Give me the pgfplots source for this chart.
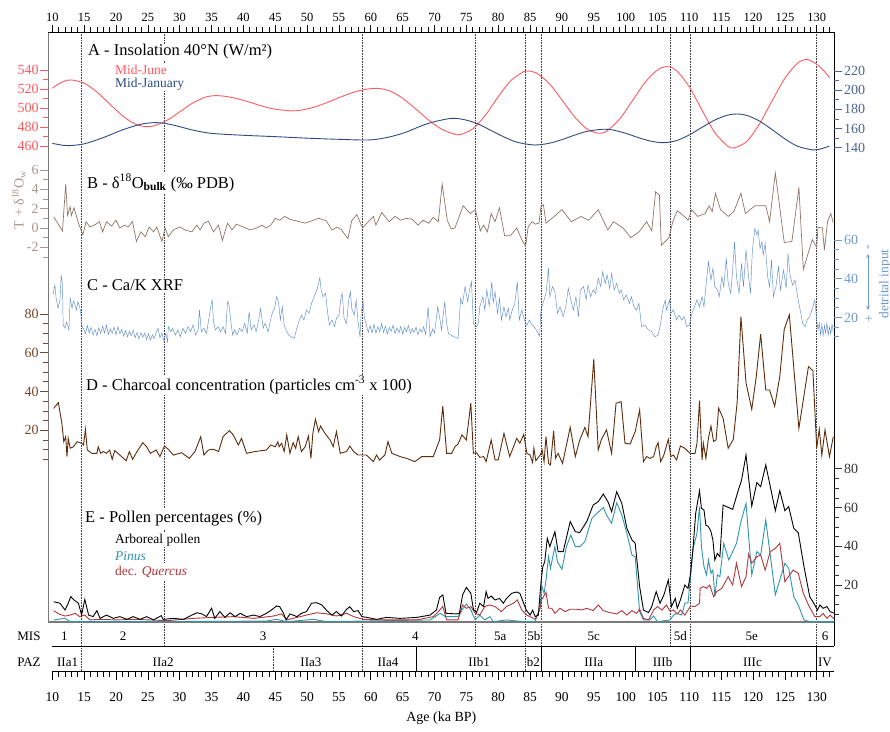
\documentclass[border=0pt]{standalone}
\usepackage{pgfplots}
\pgfplotsset{compat=1.18}
\usepackage{fontspec}
\setmainfont{Liberation Serif}
\usetikzlibrary{arrows.meta}

\newcommand\fs[1]{\fontsize{#1}{#1}\selectfont}

\definecolor{june}{HTML}{FF5A5F}
\definecolor{jan}{HTML}{2E4C82}
\definecolor{janlab}{HTML}{4A6496}
\definecolor{dO}{HTML}{8E7466}
\definecolor{dOlab}{HTML}{A8968A}
\definecolor{cak}{HTML}{5C8CCC}
\definecolor{caklab}{HTML}{6E9ACF}
\definecolor{char}{HTML}{5E2C0C}
\definecolor{charlab}{HTML}{7A4528}
\definecolor{pinus}{HTML}{2F95AB}
\definecolor{querc}{HTML}{B3363B}
\definecolor{framegray}{HTML}{7A7A7A}

\tikzset{
  dotline/.style={densely dotted, black!75, line width=0.6pt},
  lbl/.style={fill=white, inner sep=1pt, anchor=west},
}
\pgfplotsset{
  panel/.style={
    at={(48.3pt,109pt)}, anchor=south west,
    scale only axis, width=786pt, height=590pt,
    xmin=9.37, xmax=132.76,
    axis x line=none, xtick=\empty,
    tick align=outside,
    major tick length=8pt, minor tick length=5pt,
    /pgf/number format/assume math mode=true,
    yticklabel style={font=\fs{14}, inner sep=1.5pt},
  },
  leftpanel/.style={panel, axis y line*=left, y axis line style={draw=none}},
  rightpanel/.style={panel, axis y line*=right, y axis line style={draw=none}},
}

\begin{document}
\begin{tikzpicture}
\path[use as bounding box] (0pt,0pt) rectangle (890pt,731pt);

% frame, top scale, zone boundaries, MIS and PAZ rows
\begin{axis}[
  at={(48.3pt,109pt)}, anchor=south west,
  scale only axis, width=786pt, height=590pt,
  xmin=9.37, xmax=132.76, ymin=0, ymax=590,
  axis x line*=top, axis y line=none, x axis line style={draw=none},
  xtick={10,15,...,130}, minor xtick={11,12,...,133},
  tick align=outside, major tick length=7pt, minor tick length=4.5pt,
  tick style={black, line width=0.7pt},
  xticklabel style={font=\fs{12.5}, inner sep=1pt, yshift=2pt},
  /pgf/number format/assume math mode=true,
  clip=false,
]
\draw[dotline] (axis cs:14.5,590) -- (axis cs:14.5,-49);
\draw[dotline] (axis cs:27.6,590) -- (axis cs:27.6,-24);
\draw[dotline] (axis cs:58.6,590) -- (axis cs:58.6,-49);
\draw[dotline] (axis cs:76.4,590) -- (axis cs:76.4,-24);
\draw[dotline] (axis cs:84.3,590) -- (axis cs:84.3,-49);
\draw[dotline] (axis cs:86.7,590) -- (axis cs:86.7,-24);
\draw[dotline] (axis cs:107.0,590) -- (axis cs:107.0,-24);
\draw[dotline] (axis cs:110.1,590) -- (axis cs:110.1,-24);
\draw[dotline] (axis cs:129.9,590) -- (axis cs:129.9,-24);
\draw[dotline] (axis cs:44.75,-24) -- (axis cs:44.75,-49);
\draw[black, line width=0.8pt] (axis cs:67.1,-24) -- (axis cs:67.1,-49);
\draw[black, line width=0.8pt] (axis cs:86.7,-24) -- (axis cs:86.7,-49);
\draw[black, line width=0.8pt] (axis cs:101.5,-24) -- (axis cs:101.5,-49);
\draw[black, line width=0.8pt] (axis cs:110.1,-24) -- (axis cs:110.1,-49);
\draw[black, line width=0.8pt] (axis cs:129.9,-24) -- (axis cs:129.9,-49);
\draw[black, line width=0.8pt] (axis cs:10,-24) -- (axis cs:132.76,-24);
\draw[black, line width=0.8pt] (axis cs:10,-49) -- (axis cs:132.76,-49);
\draw[framegray, line width=1.6pt] (axis cs:9.37,590) -- (axis cs:9.37,0) -- (axis cs:132.76,0);
\draw[black, line width=0.8pt] (axis cs:9.37,590) -- (axis cs:132.76,590) -- (axis cs:132.76,-24);
\begin{scope}[font=\fs{13}]
\node at (axis cs:6.34,-14) {MIS};
\node at (axis cs:6.34,-40) {PAZ};
\node at (axis cs:11.9,-14) {1};
\node at (axis cs:21.1,-14) {2};
\node at (axis cs:43.1,-14) {3};
\node at (axis cs:67.0,-14) {4};
\node at (axis cs:80.3,-14) {5a};
\node at (axis cs:85.6,-14) {5b};
\node at (axis cs:95.0,-14) {5c};
\node at (axis cs:108.6,-14) {5d};
\node at (axis cs:119.8,-14) {5e};
\node at (axis cs:131.3,-14) {6};
\node at (axis cs:12.4,-40) {IIa1};
\node at (axis cs:27.4,-40) {IIa2};
\node at (axis cs:50.6,-40) {IIa3};
\node at (axis cs:62.7,-40) {IIa4};
\node at (axis cs:77.0,-40) {IIb1};
\node at (axis cs:85.5,-40) {b2};
\node at (axis cs:95.0,-40) {IIIa};
\node at (axis cs:105.8,-40) {IIIb};
\node at (axis cs:119.9,-40) {IIIc};
\node at (axis cs:131.3,-40) {IV};
\end{scope}
\end{axis}

% bottom age scale
\begin{axis}[
  at={(48.3pt,60pt)}, anchor=south west,
  scale only axis, width=786pt, height=49pt,
  xmin=9.37, xmax=132.76, ymin=0, ymax=1,
  axis x line*=bottom, axis y line=none, x axis line style={draw=none},
  xtick={10,15,...,130}, minor xtick={11,12,...,133},
  tick align=outside, major tick length=9pt, minor tick length=6pt,
  tick style={black, line width=0.7pt},
  xticklabel style={font=\fs{13.5}, inner sep=1pt, yshift=-11pt},
  xlabel={Age (ka BP)},
  xlabel style={font=\fs{14}, at={(axis description cs:0.5,0)}, anchor=center, yshift=-47pt},
  /pgf/number format/assume math mode=true,
]
\end{axis}

% A - insolation, mid-June (left scale)
\begin{axis}[leftpanel, ymin=-41.05, ymax=580,
  ytick={460,480,...,540}, minor ytick={470,490,510,530},
  y tick style={june, line width=0.8pt}, yticklabel style={text=june}]
\addplot[june, line width=0.9pt, smooth] coordinates {
(10,520.7)(11,525.5)(12,528.5)(13,529.5)(15,526.1)(17,516.8)(19,504.3)(21,491.9)
(23,483.1)(24.8,480.3)(26,481.3)(28,487)(30,495.9)(32,505.1)(34,511.4)(35.5,513)
(37,512.4)(39,509.9)(41,506)(43,501.9)(45,498.7)(47.5,497)(49,497.7)(51,500.7)
(53,505.4)(55,510.9)(57,515.9)(59,519.4)(61,520.7)(63,517.9)(65,510.2)(67,499.3)
(69,487.7)(71,478.1)(73,472.7)(74,472)(76,478)(78,492.5)(80,511.9)(82,529)
(84,538.3)(84.7,539)(86,536.8)(88,525.7)(90,508.5)(92,490.6)(94,477.6)(95.8,473.4)
(97,475.6)(99,487.9)(101,507)(103,526.6)(105,540.1)(106.5,543.5)(108,539.3)(110,522.1)
(112,497.6)(114,474.1)(116,459.9)(117,458)(119,464.7)(121,483.1)(123,507.7)(125,531.3)
(127,547.2)(128.5,551)(130,546)(131,540)(132,532)};
\end{axis}

% A - insolation, mid-January (right scale)
\begin{axis}[rightpanel, ymin=-353.96, ymax=260.6,
  ytick={140,160,...,220}, minor ytick={150,170,190,210},
  y tick style={janlab, line width=0.8pt}, yticklabel style={text=janlab}]
\addplot[jan, line width=0.9pt, smooth] coordinates {
(10,144.7)(11,143.3)(12.5,142.2)(15,144.1)(18,150.6)(21,158.6)(24,164.7)(26.2,166.2)
(28,165)(30,162)(32,158.5)(35,155)(40,153)(45,151.6)(50,150)(55,148.8)(59.5,148.1)
(62,150)(65,155)(68,163)(70,167.2)(72.8,170.7)(75,168.8)(77,164.3)(79,157.6)(81,151)
(83,145.7)(85.7,142.9)(88,144.7)(90,148.5)(92,153.2)(94,157.2)(96.5,159.3)(98,158.5)
(100,155.1)(102,150.6)(104,146.8)(106,145.3)(108,147.5)(110,153.4)(112,161.3)(114,168.9)
(116,174)(117.5,175.2)(119,173.8)(121,167.9)(123,158.9)(125,149.3)(127,141.6)(129.5,137.7)
(131,139.5)(132,141.9)};
\end{axis}

% B - d18O bulk
\begin{axis}[leftpanel, ymin=-40.83, ymax=20.31,
  ytick={-2,0,2,4,6}, minor ytick={-3,-1,1,3,5},
  y tick style={dOlab, line width=0.8pt}, yticklabel style={text=dOlab}]
\addplot[dO, line width=0.7pt] coordinates {
(10.2,1.17)(11.6,-0.3)(12.1,4.55)(12.4,1.3)(12.8,2.2)(13.0,1.3)(13.4,2.1)(14.1,0.5)
(14.8,-0.7)(15.3,0.65)(15.9,0.1)(16.6,0.3)(17.4,0.65)(17.9,-0.4)(18.5,0.65)(19.3,0.2)
(20.0,0.8)(20.6,0)(21.3,0.3)(21.9,0.1)(22.6,0.65)(23.2,-1.4)(23.9,-0.4)(24.6,-0.9)
(25.2,0.1)(25.9,-0.4)(26.4,0.1)(27.2,-1.4)(27.7,0)(28.2,-0.9)(29.0,-0.2)(30.0,0.1)
(30.8,-0.2)(31.9,-0.4)(32.7,0.3)(33.2,-0.2)(33.8,0.5)(34.5,0.7)(35.3,-0.4)(36.1,0.3)
(36.7,-1.3)(37.5,0.5)(38.2,-0.2)(38.9,0.4)(40.0,0.1)(41.0,-0.2)(42.1,0)(42.9,0.3)
(43.6,0)(44.3,0.3)(45.0,1.0)(45.7,0.8)(46.5,1.2)(47.3,0.9)(49.7,0.5)(51.8,1.0)
(53.0,0.75)(53.9,-0.2)(54.7,0.1)(55.4,-0.2)(56.4,-1.1)(57.0,0.75)(57.8,1.4)(58.7,0)
(59.6,0.65)(60.4,1.2)(60.8,0.3)(61.7,1.6)(62.9,0.65)(63.8,1.2)(64.7,0.8)(65.6,1.0)
(66.5,0.9)(67.4,0.3)(68.2,0.8)(69.1,0.5)(69.8,1.1)(70.6,0.65)(71.2,4.55)(72.0,0.8)
(72.6,-0.1)(73.2,0)(74.5,2.3)(75.6,1.5)(76.4,1.9)(77.2,-0.3)(77.7,0.3)(78.3,-0.4)
(78.9,1.5)(79.5,0.65)(80.2,2.1)(81.0,-0.8)(81.9,-0.8)(82.9,0)(83.7,-1.2)(84.3,-1.9)
(84.7,0.1)(85.3,0.65)(85.8,0.4)(86.4,0.5)(86.7,2.2)(87.1,2.4)(87.5,0.5)(88.8,1.2)
(90.0,1.9)(91.5,0.65)(93.0,1.2)(94.2,0.8)(95.7,1.9)(97.2,-0.2)(98.1,0.65)(99.6,0)
(100.8,-1.0)(102.1,-0.4)(103.3,0.65)(104.1,-0.3)(104.7,3.75)(105.3,3.4)(105.6,-1.8)(106.8,-1.0)
(107.4,0.65)(108.1,1.8)(109.2,1.2)(109.8,0.8)(110.4,1.9)(111.3,1.2)(112.5,1.5)(113.1,2.3)
(113.6,1.7)(114.1,3.6)(114.9,1.9)(116.1,1.2)(117.0,1.7)(118.1,3.6)(118.8,1.5)(120.3,2.3)
(122.0,2.3)(122.6,0.65)(123.5,5.7)(124.9,-1.5)(126.1,-1.4)(127.2,4.2)(127.9,-4.3)(129.3,-1.2)
(130.0,-2.0)(130.2,0.1)(130.9,0)(131.2,-2.3)(131.7,0.65)(132.2,1.5)(132.6,0.55)};
\end{axis}

% C - Ca/K XRF
\begin{axis}[rightpanel, ymin=-137.4, ymax=167.5,
  ytick={20,40,60}, minor ytick={10,15,25,30,35,45,50,55},
  y tick style={caklab, line width=0.8pt}, yticklabel style={text=caklab}]
\addplot[cak, line width=0.45pt] coordinates {
(10.1,31.6)(10.4,36.7)(10.6,29.9)(10.9,24.7)(11.2,29.0)(11.4,41.9)(11.6,36.7)(11.7,16.1)
(12.0,14.4)(12.2,17.5)(12.4,16.1)(12.6,13.5)(12.8,29.9)(13.1,24.7)(13.3,28.5)(13.5,27.3)
(13.8,23.8)(14.0,28.1)(14.3,25.5)(14.5,21.2)(14.6,16.1)(14.8,14.4)
(14.9,14.4)(15.2,11.5)(15.5,15.8)(15.8,12.0)(16.1,14.8)(16.4,10.9)(16.7,13.9)(17.0,10.5)
(17.3,14.6)(17.6,11.8)(17.9,15.5)(18.2,12.0)(18.5,16.1)(18.8,11.2)(19.1,14.0)(19.4,11.9)
(19.7,15.0)(20.0,11.0)(20.3,15.2)(20.6,11.6)(20.9,13.8)(21.2,10.4)(21.5,13.2)(21.8,10.0)
(22.1,12.9)(22.4,10.6)(22.7,13.4)(23.0,9.5)(23.3,12.2)(23.6,9.0)(23.9,12.0)(24.2,9.8)
(24.5,11.9)(24.8,8.6)(25.1,11.5)(25.4,8.3)(25.7,11.0)(26.0,9.1)(26.3,12.3)(26.6,14.4)
(26.9,9.5)(27.2,12.0)(27.5,8.0)(27.8,11.8)(28.1,7.5)
(28.2,15.2)(28.6,12.6)(28.9,14.4)(29.3,10.9)(29.7,13.5)(30.1,10.0)(30.5,14.4)(30.9,11.8)
(31.3,15.2)(31.7,12.6)(32.1,16.1)(32.5,10.9)(32.9,13.5)(33.1,23.8)(33.4,12.6)(33.8,14.4)
(34.2,11.8)(34.5,17.8)(34.9,26.4)(35.1,29.0)(35.3,17.8)(35.6,13.5)(36.0,15.2)(36.4,12.6)
(36.8,15.2)(37.2,11.8)(37.5,28.1)(37.7,27.3)(38.0,18.7)(38.3,10.9)(38.6,13.5)(39.0,10.9)
(39.4,14.4)(39.8,12.6)(40.2,17.0)(40.6,11.8)(40.9,23.0)(41.2,13.5)(41.7,16.1)(42.0,12.6)
(42.4,18.7)(42.7,24.7)(43.1,14.4)(43.4,17.0)(43.9,12.6)(44.3,19.5)(44.6,23.0)(44.9,24.7)
(45.2,30.7)(45.5,28.1)(45.8,18.7)(46.1,25.5)(46.4,16.1)(46.7,13.5)(47.1,10.9)(47.5,10.0)
(48.0,9.2)(48.3,13.5)(48.7,17.8)(49.1,21.2)(49.5,18.7)(49.9,23.8)(50.3,22.1)(50.7,27.3)
(51.0,29.9)(51.3,32.4)(51.6,35.0)(52.0,40.5)(52.2,34.2)(52.5,30.7)(52.9,32.4)(53.2,23.0)
(53.5,16.1)(53.9,18.7)(54.3,15.2)(54.6,19.5)(55.0,21.2)(55.3,29.9)(55.5,32.4)(55.8,19.5)
(56.2,17.0)(56.5,28.1)(56.8,33.3)(57.0,24.7)(57.4,21.2)(57.7,29.0)(58.0,17.8)(58.3,10.0)
(58.5,23.0)(58.8,28.1)(59.0,19.5)(59.3,16.1)
(59.6,12.4)(59.9,15.6)(60.2,12.0)(60.5,16.4)(60.8,11.9)(61.1,15.2)(61.4,12.6)(61.7,17.0)
(62.0,12.2)(62.3,15.4)(62.6,11.5)(62.9,14.9)(63.2,12.8)(63.5,16.0)(63.8,11.6)(64.1,14.5)
(64.4,12.0)(64.7,15.3)(65.0,11.4)(65.3,14.8)(65.6,12.5)(65.9,15.9)(66.2,11.8)(66.5,14.2)
(66.8,12.3)(67.1,15.0)(67.4,11.0)(67.7,14.1)(68.0,12.4)(68.3,15.2)(68.6,11.2)(69.0,25.5)
(69.3,10.0)(69.7,14.0)(70.0,12.0)(70.5,25.5)(70.8,20.0)(71.1,13.5)(71.6,28.1)(71.9,16.9)
(72.2,11.5)(72.6,10.9)
(73.0,10.0)(73.7,9.2)(74.1,29.9)(74.4,27.0)(74.8,35.9)(75.2,28.1)(75.5,34.2)(75.8,38.5)
(76.1,16.9)(76.6,15.2)(76.9,17.5)(77.1,25.5)(77.6,30.7)(77.9,23.8)(78.2,34.2)(78.6,26.0)
(79.0,38.5)(79.2,27.5)(79.5,33.3)(79.9,22.1)(80.2,29.9)(80.5,18.7)(80.9,25.5)(81.2,20.4)
(81.6,24.7)(81.8,18.7)(82.2,23.8)(82.6,27.3)(83.0,38.5)(83.3,18.7)(83.7,23.8)(84.2,17.8)
(84.5,16.1)(84.9,18.7)(85.3,16.1)(85.6,15.2)(86.0,13.5)(86.5,10.4)(86.7,23.8)(87.1,28.1)
(87.5,32.4)(87.9,45.4)(88.1,30.7)(88.5,35.9)(88.9,33.3)(89.3,22.1)(89.7,25.5)(90.2,20.4)
(90.6,25.5)(91.0,35.0)(91.4,29.0)(91.8,23.8)(92.2,30.7)(92.6,20.4)(92.9,34.2)(93.4,35.9)
(93.8,29.0)(94.1,36.7)(94.5,30.7)(94.9,34.2)(95.3,32.4)(95.7,40.2)(96.1,35.9)(96.4,43.6)
(96.8,37.6)(97.1,41.9)(97.5,35.0)(97.8,42.8)(98.2,34.2)(98.6,37.6)(99.0,32.4)(99.3,34.2)
(99.7,29.0)(100.1,31.6)(100.6,27.3)(100.9,30.7)(101.3,25.5)(101.7,23.8)(102.1,27.3)(102.5,15.2)
(103.0,16.1)(103.6,13.5)(104.1,12.6)(104.6,10.0)(105.1,10.9)(105.5,16.9)(105.8,23.8)(106.2,29.0)
(106.4,23.8)(106.9,29.0)(107.1,22.1)(107.5,23.8)(108.0,18.7)(108.4,21.2)(108.8,18.7)(109.2,20.4)
(109.6,15.2)(110.0,16.1)(110.4,22.1)(110.8,25.5)(111.2,29.0)(111.6,25.5)(112.0,30.7)(112.3,25.5)
(112.6,35.9)(113.0,48.8)(113.4,39.3)(113.7,45.4)(114.0,35.9)(114.4,34.2)(114.7,30.7)(115.1,41.0)
(115.4,35.9)(115.8,50.5)(116.1,37.6)(116.5,32.4)(116.8,44.5)(117.1,59.1)(117.4,41.0)(117.8,32.4)
(118.2,47.9)(118.5,35.9)(118.9,54.8)(119.2,44.5)(119.6,32.4)(119.9,54.8)(120.3,66.0)(120.6,62.6)
(120.8,65.2)(121.1,55.7)(121.4,59.1)(121.6,52.3)(121.9,58.3)(122.3,41.0)(122.6,35.9)(122.9,49.7)
(123.2,30.7)(123.6,35.9)(124.0,46.2)(124.3,34.2)(124.8,44.5)(125.2,35.0)(125.5,53.1)(125.8,41.9)
(126.2,36.7)(126.6,39.3)(127.0,30.7)(127.4,23.8)(127.8,16.9)(128.2,15.2)(128.5,18.7)(128.9,20.4)
(129.4,25.5)(129.7,29.0)(130.0,18.7)
(130.2,13.5)(130.4,17.0)(130.6,11.0)(130.8,16.2)(131.0,10.5)(131.2,15.8)(131.4,12.0)(131.6,17.2)
(131.8,10.8)(132.0,15.0)(132.2,11.5)(132.4,16.5)(132.6,12.5)};
\end{axis}

% D - charcoal
\begin{axis}[leftpanel, ymin=-79.07, ymax=225.8,
  ytick={20,40,60,80}, minor ytick={5,10,15,25,30,35,45,50,55,65,70,75},
  y tick style={charlab, line width=0.8pt}, yticklabel style={text=charlab}]
\addplot[char, line width=0.9pt] coordinates {
(10.2,31.3)(10.95,34.3)(11.5,23.6)(11.8,14.1)(12.1,16.7)(12.3,6.4)(12.5,15.8)(12.8,10.7)
(13.3,11.5)(13.9,14.1)(14.6,13.3)(14.9,12.4)(15.2,20.5)(15.5,9.8)(16.2,8.1)(17.0,8.1)
(17.2,11.5)(17.6,8.1)(18.0,9.0)(18.5,8.1)(19.0,9.8)(19.4,5.0)(19.8,9.5)(20.6,7.2)
(21.6,4.3)(22.1,9.0)(22.6,5.0)(23.3,9.0)(24.2,13.6)(24.8,11.5)(25.4,8.1)(26.3,9.8)
(26.9,6.4)(27.6,11.9)(28.2,10.2)(29.0,7.2)(30.3,8.4)(31.5,5.5)(32.4,9.0)(33.3,16.7)
(33.8,7.2)(34.5,9.8)(35.3,10.2)(36.1,9.0)(36.8,16.7)(37.8,19.8)(38.4,17.6)(39.2,12.4)
(39.7,15.8)(40.5,8.1)(41.8,9.0)(43.6,9.8)(44.3,12.4)(45.0,11.5)(45.4,14.1)(45.6,11.5)
(46.0,13.3)(46.4,9.0)(46.8,17.6)(47.3,8.1)(47.8,13.6)(48.2,10.7)(48.6,16.7)(49.1,9.0)
(49.7,11.5)(50.2,17.0)(50.6,5.5)(50.9,18.4)(51.3,25.7)(51.8,19.3)(52.1,22.2)(52.8,18.4)
(53.6,15.0)(54.1,11.5)(54.6,19.3)(55.2,8.1)(56.2,9.0)(56.7,11.9)(57.3,9.0)(58.0,7.2)
(59.3,7.2)(60.4,3.8)(60.9,7.2)(61.4,4.6)(62.2,7.2)(62.7,14.1)(63.3,8.1)(64.6,6.4)
(65.6,5.5)(66.9,3.8)(68.0,6.4)(69.8,6.4)(70.3,10.7)(70.8,15.0)(71.3,32.5)(71.9,8.1)
(72.7,8.1)(73.2,11.5)(73.7,12.9)(74.3,17.6)(75.0,15.0)(75.7,34.0)(76.1,8.1)(76.6,8.4)
(77.1,6.0)(77.7,6.4)(78.1,3.8)(78.9,15.0)(79.5,4.7)(80.0,4.7)(80.9,18.4)(81.8,6.4)
(82.9,15.8)(83.4,13.3)(84.0,17.9)(84.5,8.1)(85.0,7.2)(85.4,3.3)(85.6,10.7)(85.9,4.3)
(86.6,7.2)(86.9,9.8)(87.2,3.8)(87.5,16.7)(87.9,2.9)(88.2,2.1)(88.7,19.8)(89.0,5.5)
(89.4,8.1)(90.1,2.9)(91.3,21.5)(92.1,6.4)(92.8,15.0)(93.6,21.5)(94.1,16.7)(95.0,56.7)
(95.7,9.8)(96.2,15.3)(97.0,20.2)(97.8,8.1)(98.5,34.0)(99.3,34.8)(99.9,13.3)(100.7,12.9)
(101.5,19.3)(102.2,30.5)(102.8,3.8)(103.3,6.4)(103.8,5.5)(104.4,6.4)(104.8,11.5)(105.1,13.6)
(105.5,3.8)(106.0,7.2)(106.7,15.3)(107.1,6.4)(107.5,7.2)(108.0,4.7)(108.6,11.9)(109.3,10.7)
(110.1,8.1)(110.9,8.1)(111.2,13.3)(111.6,35.3)(112.0,4.7)(112.2,13.3)(112.6,5.5)(113.0,15.9)
(113.4,22.2)(113.8,14.2)(114.2,15.0)(114.6,31.4)(115.3,26.2)(116.1,10.7)(116.9,15.3)(117.5,34.0)
(118.1,78.7)(118.9,44.5)(119.8,30.8)(120.5,47.5)(121.2,69.7)(122.0,40.8)(122.6,40.8)(123.4,32.4)
(124.2,47.7)(124.9,72.2)(125.7,79.6)(127.2,21.0)(128.7,52.9)(129.4,50.8)(130.0,10.7)(130.4,20.5)
(130.8,7.2)(131.3,20.2)(132.0,6.4)(132.6,16.7)};
\end{axis}

% E - pollen percentages
\begin{axis}[rightpanel, ymin=1.03, ymax=305.2,
  ytick={20,40,60,80}, minor ytick={5,10,15,25,30,35,45,50,55,65,70,75},
  y tick style={black!80, line width=0.8pt}, yticklabel style={text=black!80}]
\addplot[pinus, line width=0.9pt] coordinates {
(10.2,2.1)(12.0,2.9)(12.8,1.2)(22.7,1.2)(43.6,1.5)(45.2,2.4)(46.8,1.2)(51.0,2.4)
(53.1,1.2)(69.3,2.1)(70.9,5.5)(71.7,3.8)(73.7,3.8)(74.4,7.6)(75.0,10.3)(75.7,7.2)
(76.4,2.1)(77.1,4.6)(77.9,2.1)(78.7,3.8)(79.2,1.2)(81.3,2.1)(84.0,1.2)(85.8,1.2)
(86.6,9.0)(86.8,20.1)(87.2,15.8)(87.5,22.7)(87.9,34.7)(88.2,28.7)(88.9,39.9)(89.3,32.1)
(90.0,28.2)(90.7,39.9)(91.4,45.9)(92.1,39.9)(92.8,39.9)(93.6,42.4)(94.7,54.5)(95.5,57.1)
(96.5,60.1)(97.0,56.2)(97.8,51.9)(98.6,62.5)(99.4,56.2)(100.2,46.7)(101.0,35.6)(101.5,34.7)
(102.2,6.4)(102.8,2.1)(103.8,2.1)(104.4,4.1)(105.0,1.2)(107.0,2.1)(107.5,4.6)(108.1,5.5)
(108.8,4.6)(109.3,10.7)(109.8,11.0)(110.2,25.3)(110.6,39.0)(111.2,46.7)(111.6,60.5)(111.9,39.9)
(112.3,29.6)(112.7,25.3)(113.0,33.0)(113.4,26.1)(113.7,27.8)(114.0,14.1)(114.4,25.3)(114.8,24.4)
(115.4,41.6)(116.2,33.0)(117.4,41.6)(118.1,52.8)(118.9,62.2)(119.8,25.3)(120.6,37.3)(121.2,35.6)
(122.0,53.6)(123.5,15.0)(124.2,22.7)(125.0,31.3)(125.6,28.7)(126.4,14.1)(127.1,9.8)(128.0,2.1)
(128.9,1.2)(132.8,1.2)};
\addplot[querc, line width=0.9pt] coordinates {
(10.2,6.9)(11.0,5.2)(12.0,4.1)(12.8,4.6)(13.6,5.5)(14.3,3.8)(15.1,4.6)(15.9,2.1)
(17.5,2.4)(20.1,2.1)(22.7,2.4)(25.3,2.1)(28.0,1.7)(32.1,2.9)(35.3,3.4)(38.4,3.8)
(41.6,2.9)(44.7,4.1)(46.0,5.2)(46.8,2.1)(47.8,2.9)(49.9,4.6)(51.5,5.8)(53.1,5.2)
(54.6,4.1)(56.2,5.5)(57.3,3.8)(58.8,2.4)(62.0,2.1)(67.2,2.1)(69.8,3.8)(70.6,6.4)
(71.3,9.0)(71.9,2.1)(73.7,2.1)(74.4,9.8)(75.0,8.1)(75.7,9.0)(76.4,5.5)(77.1,4.6)
(77.9,9.0)(78.6,9.8)(79.5,9.0)(80.5,6.4)(81.3,9.0)(82.4,10.7)(83.0,12.4)(83.7,7.2)
(84.5,4.6)(85.8,2.4)(86.5,7.2)(86.8,12.4)(87.5,16.3)(87.9,8.1)(88.4,8.1)(88.9,5.5)
(89.7,8.1)(90.5,6.4)(91.3,7.6)(92.3,7.6)(93.1,7.2)(93.9,8.1)(94.9,6.9)(95.7,9.8)
(96.5,6.9)(97.5,5.9)(98.6,5.2)(99.4,6.9)(100.2,4.6)(101.0,6.9)(101.7,5.5)(102.2,7.6)
(102.8,2.9)(103.6,2.1)(104.4,7.2)(105.0,9.0)(105.7,7.2)(106.4,9.8)(107.0,6.4)(107.5,7.2)
(108.1,5.2)(108.6,7.2)(109.3,4.6)(110.2,9.3)(110.9,9.0)(111.6,10.7)(111.7,18.4)(112.2,19.3)
(112.7,18.4)(113.2,20.1)(113.8,14.1)(114.3,16.7)(115.1,18.4)(116.1,24.4)(116.8,20.1)(117.4,31.3)
(118.2,19.3)(118.9,24.4)(119.3,36.1)(119.8,31.3)(120.6,34.7)(121.2,35.6)(121.9,27.8)(122.7,37.3)
(123.5,39.0)(124.2,41.6)(125.0,21.8)(126.3,27.8)(127.1,26.1)(127.9,15.8)(128.7,9.8)(129.7,3.8)
(130.5,3.8)(131.0,5.5)(131.6,2.9)(132.1,4.6)(132.8,2.4)};
\addplot[black, line width=0.9pt] coordinates {
(10.2,11.5)(11.2,10.7)(12.0,7.2)(12.5,10.7)(12.9,14.1)(13.4,12.4)(14.1,10.7)(14.6,4.6)
(15.1,12.7)(15.7,4.6)(16.4,3.8)(17.0,6.9)(17.5,2.9)(18.5,4.6)(19.6,2.9)(20.6,3.8)
(21.7,2.4)(22.7,3.8)(23.8,2.4)(24.8,3.8)(25.9,2.1)(27.1,4.3)(27.4,2.4)(29.0,2.9)
(30.6,2.4)(31.9,4.6)(32.7,5.8)(33.5,5.2)(34.2,3.8)(35.0,8.1)(35.5,2.9)(36.3,6.4)
(37.1,3.4)(37.9,5.8)(38.7,3.8)(39.5,5.5)(40.5,3.8)(41.6,4.6)(42.6,3.8)(43.6,5.5)
(44.4,7.2)(45.2,9.3)(45.7,8.9)(46.3,5.5)(46.7,2.1)(47.3,5.2)(48.4,3.8)(49.1,5.5)
(49.9,6.4)(50.7,10.7)(51.5,11.0)(52.3,9.8)(53.1,6.9)(53.9,4.6)(54.6,6.4)(55.4,4.1)
(56.2,7.6)(56.7,8.9)(57.3,6.4)(58.0,6.9)(58.6,3.8)(59.4,3.4)(60.9,2.4)(62.5,3.4)
(64.6,2.9)(67.2,3.4)(69.3,4.6)(70.3,7.2)(70.8,13.7)(71.3,15.0)(71.8,5.5)(73.5,5.2)
(73.9,5.5)(74.4,14.9)(75.0,18.9)(75.7,15.8)(76.1,7.6)(76.6,5.9)(77.1,10.7)(77.7,9.0)
(78.1,16.7)(78.4,13.2)(78.9,14.4)(79.5,12.4)(80.2,13.2)(80.8,10.7)(81.3,13.2)(82.1,15.8)
(82.9,16.5)(83.4,15.8)(84.4,7.2)(85.0,4.6)(85.4,7.2)(85.8,3.8)(86.3,4.6)(86.7,21.0)
(87.0,29.6)(87.3,32.1)(87.7,44.2)(88.1,39.9)(88.9,47.6)(89.4,37.3)(90.2,37.3)(91.3,52.8)
(92.1,47.6)(92.8,47.1)(93.9,52.8)(94.9,61.3)(95.7,63.1)(96.5,67.0)(97.3,62.5)(97.8,57.9)
(98.6,68.2)(99.4,62.2)(100.2,49.3)(101.0,43.3)(101.5,41.6)(102.2,19.2)(102.8,7.2)(103.6,5.9)
(104.1,9.0)(104.8,16.7)(105.4,10.7)(106.0,14.9)(106.7,22.7)(107.2,9.0)(107.8,13.2)(108.1,8.1)
(108.6,12.4)(109.3,20.1)(109.8,18.4)(110.2,26.1)(110.6,39.9)(111.0,57.1)(111.6,68.7)(111.9,59.6)
(112.3,58.8)(112.6,51.0)(113.0,50.2)(113.4,47.6)(113.7,43.3)(114.0,33.0)(114.4,36.4)(114.8,34.7)
(115.3,61.3)(116.8,59.1)(117.7,69.1)(118.2,74.2)(118.9,87.1)(119.8,60.8)(120.6,72.9)(121.2,70.8)
(122.0,82.0)(123.5,58.4)(124.2,68.7)(125.0,58.4)(125.6,60.5)(126.4,49.3)(127.1,47.1)(128.0,29.6)
(128.9,14.1)(129.7,9.8)(130.1,7.2)(130.5,9.8)(131.0,8.1)(131.6,9.0)(132.1,6.4)(132.8,5.5)};
\end{axis}

% panel titles and legends
\node[lbl, font=\fs{16.5}] at (87pt,679pt) {A - Insolation 40°N (W/m²)};
\node[lbl, font=\fs{13.5}, text=june] at (114pt,661pt) {Mid-June};
\node[lbl, font=\fs{13.5}, text=jan] at (114pt,647pt) {Mid-January};
\node[lbl, font=\fs{16.5}] at (86pt,548pt) {B - δ\textsuperscript{18}O\textsubscript{\textbf{bulk}} (‰ PDB)};
\node[lbl, font=\fs{16.5}] at (86pt,446pt) {C - Ca/K XRF};
\node[lbl, font=\fs{16.5}] at (85pt,346pt) {D - Charcoal concentration (particles cm\textsuperscript{-3} x 100)};
\node[lbl, font=\fs{16.5}, minimum height=22pt] at (84pt,212pt) {E - Pollen percentages (\%)};
\node[lbl, font=\fs{13.5}] at (114pt,191pt) {Arboreal pollen};
\node[lbl, font=\fs{13.5}, text=pinus] at (114pt,175pt) {\textit{Pinus}};
\node[lbl, font=\fs{13.5}, text=querc, minimum height=18pt] at (114pt,159pt) {dec. \textit{Quercus}};

% axis side labels
\node[rotate=90, font=\fs{14}, text=dOlab] at (19pt,531pt) {T + δ\textsuperscript{18}O\textsubscript{w}};
\node[rotate=90, font=\fs{13.5}, text=caklab] at (885pt,447pt) {detrital input};
\node[rotate=90, font=\fs{13.5}, text=caklab] at (869.5pt,412pt) {+};
\node[rotate=90, font=\fs{13.5}, text=caklab] at (869.5pt,484pt) {-};
\draw[caklab, line width=0.8pt, {Stealth[length=4pt,width=3.5pt]}-{Stealth[length=4pt,width=3.5pt]}] (868pt,421pt) -- (868pt,477pt);
\end{tikzpicture}
\end{document}
